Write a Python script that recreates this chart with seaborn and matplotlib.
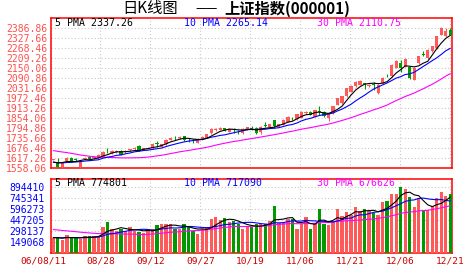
import numpy as np
import pandas as pd
import matplotlib
matplotlib.use("Agg")
import matplotlib.pyplot as plt
import matplotlib.transforms as mtransforms
import seaborn as sns

# ---------------- data ----------------
date_labels = ["06/08/11", "08/28", "09/12", "09/27", "10/19", "11/06", "11/21", "12/06", "12/21"]
price_tick_labels = ["1558.06", "1617.26", "1676.46", "1735.66", "1794.86", "1854.06", "1913.26",
                     "1972.46", "2031.66", "2090.86", "2150.06", "2209.26", "2268.46", "2327.66", "2386.86"]
vol_tick_labels = ["149068", "298137", "447205", "596273", "745341", "894410"]
price_legend = ["5 PMA 2337.26", "10 PMA 2265.14", "30 PMA 2110.75"]
vol_legend = ["5 PMA 774801", "10 PMA 717090", "30 PMA 676626"]

open_ = [1608, 1594, 1566, 1604, 1621, 1614, 1568, 1615, 1627, 1619,
         1617, 1627, 1663, 1647, 1653, 1663, 1653, 1664, 1670, 1692,
         1667, 1673, 1677, 1706, 1686, 1700, 1726, 1745, 1736, 1749,
         1728, 1722, 1710, 1730, 1739, 1765, 1785, 1785, 1795, 1775,
         1787, 1780, 1765, 1785, 1797, 1795, 1771, 1814, 1805, 1842,
         1805, 1814, 1834, 1852, 1848, 1858, 1888, 1893, 1864, 1897,
         1893, 1856, 1885, 1935, 1945, 1984, 2010, 2043, 2053, 2062,
         2043, 2058, 2004, 2063, 2107, 2103, 2152, 2181, 2160, 2156,
         2083, 2181, 2235, 2211, 2250, 2270, 2349, 2339, 2379]
close = [1613, 1566, 1594, 1621, 1598, 1610, 1598, 1621, 1613, 1627,
         1637, 1657, 1659, 1661, 1663, 1637, 1663, 1671, 1680, 1663,
         1677, 1681, 1704, 1702, 1700, 1726, 1740, 1741, 1746, 1726,
         1724, 1718, 1730, 1745, 1759, 1791, 1790, 1799, 1779, 1791,
         1783, 1776, 1791, 1801, 1793, 1767, 1803, 1810, 1820, 1807,
         1820, 1844, 1864, 1848, 1878, 1893, 1893, 1874, 1903, 1892,
         1866, 1880, 1925, 1974, 1984, 2033, 2043, 2069, 2077, 2058,
         2053, 2054, 2053, 2093, 2103, 2171, 2191, 2152, 2205, 2093,
         2152, 2221, 2231, 2260, 2280, 2339, 2389, 2369, 2349]
high = [1616, 1617, 1598, 1624, 1625, 1621, 1600, 1624, 1630, 1630,
        1640, 1660, 1677, 1664, 1666, 1666, 1666, 1675, 1683, 1695,
        1680, 1684, 1707, 1720, 1703, 1729, 1743, 1750, 1749, 1752,
        1736, 1730, 1733, 1748, 1762, 1794, 1795, 1801, 1798, 1794,
        1795, 1785, 1794, 1804, 1809, 1801, 1809, 1834, 1823, 1846,
        1823, 1847, 1867, 1864, 1881, 1896, 1899, 1896, 1906, 1927,
        1896, 1887, 1928, 1977, 1987, 2036, 2050, 2075, 2083, 2063,
        2058, 2070, 2057, 2096, 2116, 2175, 2200, 2201, 2211, 2160,
        2156, 2225, 2250, 2264, 2284, 2343, 2393, 2389, 2389]
low = [1606, 1564, 1562, 1600, 1595, 1602, 1558, 1612, 1610, 1616,
       1615, 1625, 1647, 1645, 1650, 1634, 1650, 1661, 1667, 1660,
       1664, 1670, 1675, 1686, 1684, 1698, 1724, 1728, 1733, 1722,
       1716, 1710, 1708, 1727, 1736, 1762, 1781, 1783, 1776, 1772,
       1765, 1761, 1762, 1783, 1785, 1761, 1759, 1801, 1803, 1805,
       1802, 1812, 1832, 1844, 1846, 1856, 1880, 1871, 1862, 1874,
       1863, 1840, 1882, 1932, 1940, 1980, 2008, 2040, 2050, 2027,
       2040, 2024, 1998, 2060, 2097, 2100, 2150, 2130, 2156, 2085,
       2080, 2178, 2221, 2208, 2247, 2267, 2345, 2336, 2345]
volume_k = [207, 207, 184, 253, 207, 207, 193, 230, 239, 230,
            239, 354, 423, 322, 299, 331, 299, 359, 299, 285,
            276, 322, 331, 377, 400, 400, 391, 331, 322, 391,
            359, 299, 267, 331, 359, 460, 492, 451, 473, 423,
            437, 391, 331, 359, 359, 391, 391, 391, 437, 644,
            414, 423, 469, 460, 331, 391, 492, 331, 414, 600,
            400, 380, 430, 600, 510, 560, 520, 620, 570, 600,
            570, 540, 520, 690, 710, 800, 800, 894, 870, 760,
            620, 740, 570, 580, 640, 750, 830, 770, 800]
# closes / volumes of the sessions just before the window (needed for the moving averages)
pre_close = [1700, 1710, 1725, 1740, 1750, 1745, 1730, 1720, 1710, 1700,
             1695, 1690, 1685, 1680, 1675, 1670, 1665, 1660, 1650, 1640,
             1610, 1600, 1595, 1590, 1585, 1580, 1588, 1592, 1596]
pre_volume_k = [380, 390, 400, 370, 380, 390, 400, 380, 370, 380,
                370, 360, 380, 370, 360, 380, 370, 360, 350, 340,
                215, 220, 210, 215, 220, 210, 215, 205, 215]

n = len(close)
df = pd.DataFrame({"i": np.arange(n), "open": open_, "close": close, "high": high, "low": low,
                   "vol": np.array(volume_k, float) * 1000})
df["dir"] = np.where(df["close"] >= df["open"], "up", "down")

allc = pd.Series(pre_close + close, dtype=float)
allv = pd.Series(pre_volume_k + volume_k, dtype=float) * 1000
k0 = len(pre_close)
for w in (5, 10, 30):
    df[f"ma{w}"] = allc.rolling(w, min_periods=1).mean().values[k0:]
    df[f"vma{w}"] = allv.rolling(w, min_periods=1).mean().values[k0:]

UP, DOWN = "#ff5a5a", "#009a00"
pal = {"up": UP, "down": DOWN}

# ---------------- figure ----------------
sns.set_theme(style="white")
plt.rcParams["font.family"] = ["DejaVu Sans Mono"]
W, H = 472, 273
fig = plt.figure(figsize=(W / 100, H / 100), dpi=100)


def rect(l, t, r, b):
    return [l / W, 1 - b / H, (r - l) / W, (b - t) / H]


axp = fig.add_axes(rect(50.5, 18.3, 452.3, 168.3))
axv = fig.add_axes(rect(50.5, 178.6, 452.3, 253.3))

x0, x1 = -0.51, 88.44
grid_px = [50, 100, 150, 200, 250, 300, 350, 400, 450]
tick_pos = [(p - 52.8) / 4.517 for p in grid_px]

# candles
axp.vlines(df["i"], df["low"], df["high"], colors=[pal[d] for d in df["dir"]], lw=0.8, zorder=3)
body = (df["close"] - df["open"]).abs().clip(lower=3.5)
axp.bar(df["i"], body, bottom=df[["open", "close"]].min(axis=1), width=0.72,
        color=[pal[d] for d in df["dir"]], linewidth=0, zorder=4)

for col, c in (("ma30", "#ff00ff"), ("ma10", "#0000ff"), ("ma5", "#000000")):
    sns.lineplot(data=df, x="i", y=col, color=c, lw=0.8, ax=axp, zorder=5)

# volume
sns.barplot(data=df, x="i", y="vol", hue="dir", palette=pal, native_scale=True, width=0.74,
            saturation=1, legend=False, errorbar=None, linewidth=0, dodge=False, ax=axv, zorder=3)
for col, c in (("vma30", "#ff00ff"), ("vma10", "#0000ff"), ("vma5", "#000000")):
    sns.lineplot(data=df, x="i", y=col, color=c, lw=0.8, ax=axv, zorder=5)

price_vals = [float(s) for s in price_tick_labels]
vol_vals = [float(s) for s in vol_tick_labels]
axp.set_xlim(x0, x1)
axp.set_ylim(1558.06, 2446.06)
axv.set_xlim(x0, x1)
axv.set_ylim(0, 1008000)

grid_kw = dict(color="#c8c8c8", lw=0.8, linestyle=(0, (1, 2)))
for ax in (axp, axv):
    ax.set_xlabel("")
    ax.set_ylabel("")
    ax.set_xticks(tick_pos)
    ax.grid(True, **grid_kw)
    ax.set_axisbelow(True)
    for s in ("top", "right", "bottom"):
        ax.spines[s].set_color("#ff0000")
        ax.spines[s].set_linewidth(1.1)
        ax.spines[s].set_visible(True)
    ax.spines["left"].set_color("#ff0000")
    ax.spines["left"].set_linewidth(1.1)
    ax.spines["left"].set_linestyle((0, (1, 1)))
    ax.spines["left"].set_visible(True)
    ax.tick_params(length=0)

axp.set_yticks(price_vals)
axp.set_yticklabels(price_tick_labels)
axp.tick_params(axis="y", colors="#ff5050", labelsize=7, pad=2.5)
axp.set_xticklabels([])
axv.set_yticks(vol_vals)
axv.set_yticklabels(vol_tick_labels)
axv.tick_params(axis="y", colors="#0000ff", labelsize=7, pad=4)
axv.set_xticklabels(date_labels)
axv.tick_params(axis="x", colors="#cc0000", labelsize=6.8, pad=2.5)
lbl0 = axv.get_xticklabels()[0]
lbl0.set_transform(lbl0.get_transform() + mtransforms.ScaledTranslation(-7 / 100, 0, fig.dpi_scale_trans))

# legends (text as shown in the chart)
for texts, yy in ((price_legend, 23.5), (vol_legend, 183)):
    for xx, t, c in zip((55, 184, 317), texts, ("#000000", "#0000ff", "#ff00ff")):
        fig.text(xx / W, 1 - yy / H, t, color=c, fontsize=7.1, ha="left", va="center",
                 family="DejaVu Sans Mono")

cjk = ["Noto Sans CJK SC", "DejaVu Sans"]
fig.text(122 / W, 1 - 9 / H, "日K线图", fontsize=11, ha="left", va="center", family=cjk, color="#000000")
fig.text(195 / W, 1 - 9 / H, "——", fontsize=9, ha="left", va="center", family=cjk, color="#000000")
fig.text(224 / W, 1 - 9 / H, "上证指数(000001)", fontsize=11, ha="left", va="center", weight="bold",
         family=cjk, color="#000000")

fig.savefig("out.png", dpi=100, facecolor="white")
